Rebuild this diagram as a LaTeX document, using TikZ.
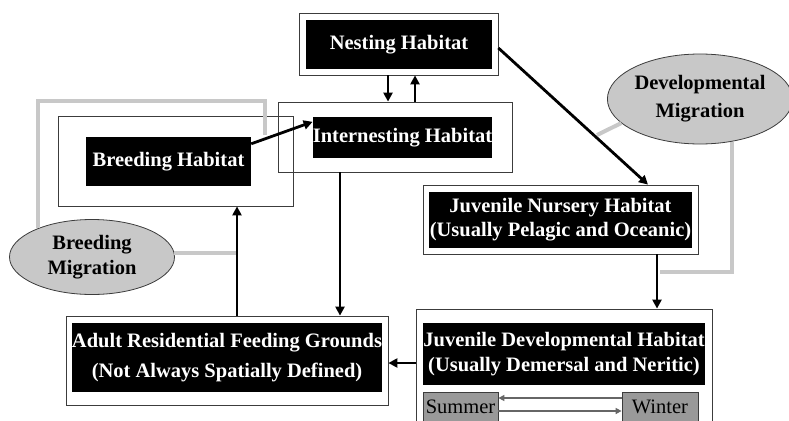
\documentclass[tikz,border=0pt]{standalone}
\usepackage{fontspec}
\setmainfont{Liberation Serif}
\usetikzlibrary{arrows.meta, calc, shapes.geometric}
\definecolor{migrey}{RGB}{200,200,200}
\definecolor{seasongrey}{RGB}{153,153,153}
\definecolor{framegrey}{RGB}{60,60,60}

\begin{document}
\begin{tikzpicture}[x=1pt, y=-1pt,
  outerframe/.style={draw=framegrey, line width=0.8pt, inner sep=0pt},
  habitat/.style={fill=black, text=white, inner sep=0pt, align=center,
    font=\bfseries\fontsize{20.5}{24}\selectfont},
  migration/.style={ellipse, draw=framegrey, fill=migrey, line width=0.8pt,
    inner sep=0pt, align=center, text=black},
  season/.style={draw=framegrey, fill=seasongrey, line width=0.8pt, inner sep=0pt,
    font=\fontsize{20.5}{24}\selectfont},
  flow/.style={line width=2.8pt, -{Triangle[length=9pt, width=9pt]}},
  migline/.style={line width=4pt, migrey},
  seasonflow/.style={line width=1.6pt, black!60, -{Triangle[length=6pt, width=6pt]}}
]
  \useasboundingbox (0,0) rectangle (789,420);
  \clip (0,0) rectangle (789,420);

  % Nesting and internesting habitats
  \node[outerframe, minimum width=199pt, minimum height=62pt] (nestout) at (398.5,44) {};
  \node[habitat, minimum width=186pt, minimum height=49pt] (nest) at (399,44.5) {Nesting Habitat};
  \node[outerframe, minimum width=234pt, minimum height=70pt] (intout) at (395,137) {};
  \node[habitat, minimum width=179pt, minimum height=41pt] (int) at (402.5,137.5) {Internesting Habitat};

  % Breeding habitat
  \node[outerframe, minimum width=235pt, minimum height=90pt] (brdout) at (175.5,161) {};
  \node[habitat, minimum width=165pt, minimum height=49pt] (brd) at (168.5,161.5) {Breeding Habitat};

  % Adult feeding grounds
  \node[outerframe, minimum width=322pt, minimum height=89pt] (adultout) at (227,360.5) {};
  \node[habitat, minimum width=310pt, minimum height=69pt,
    font=\bfseries\fontsize{20.5}{30}\selectfont] (adult) at (227,357.5)
    {Adult Residential Feeding Grounds\\(Not Always Spatially Defined)};

  % Juvenile habitats
  \node[outerframe, minimum width=275pt, minimum height=69pt] (nurout) at (560.5,219.5) {};
  \node[habitat, minimum width=263pt, minimum height=56pt] (nur) at (560.5,220)
    {Juvenile Nursery Habitat\\(Usually Pelagic and Oceanic)};
  \node[outerframe, minimum width=296pt, minimum height=121pt] (devout) at (564,369.5) {};
  \node[habitat, minimum width=282pt, minimum height=62pt,
    font=\bfseries\fontsize{20.5}{25}\selectfont] (dev) at (564,354)
    {Juvenile Developmental Habitat\\(Usually Demersal and Neritic)};

  % Seasons
  \node[season, minimum width=75pt, minimum height=30pt] (summer) at (460.5,407) {Summer};
  \node[season, minimum width=76pt, minimum height=30pt] (winter) at (660,407) {Winter};
  \draw[seasonflow] ([yshift=9pt]winter.west) -- ([yshift=9pt]summer.east);
  \draw[seasonflow] ([yshift=-4pt]summer.east) -- ([yshift=-4pt]winter.west);

  % Migration ellipses
  \node[migration, minimum width=165pt, minimum height=75pt,
    font=\bfseries\fontsize{20.5}{24.5}\selectfont] (bmig) at (92,257) {Breeding\\Migration};
  \node[migration, minimum width=180pt, minimum height=90pt,
    font=\bfseries\fontsize{20.5}{28}\selectfont] (dmig) at (700,99) {Developmental\\Migration};

  % Grey migration lines
  \coordinate (bltop) at (265,101);
  \coordinate (blend) at (265,135);
  \coordinate (aup) at ($(adultout.north)+(10,0)$);
  \draw[migline] (bmig.152) |- (bltop) -- (blend);
  \draw[migline] (bmig.3) -- (bmig.3 -| aup);
  \coordinate (dstub) at (597,135);
  \coordinate (dend) at (660,272);
  \draw[migline] (dmig.197) -- (dstub);
  \draw[migline] (dmig.307) |- (dend);

  % Black arrows
  \draw[flow] ($(nestout.south)+(-10.5,0)$) -- ($(intout.north)+(-7,0)$);
  \draw[flow] ($(intout.north)+(20,0)$) -- ($(nestout.south)+(16.5,0)$);
  \draw[flow] ($(brd.north east)+(0,7)$) -- ($(int.north west)+(0,5)$);
  \draw[flow] ($(nestout.east)+(0,4)$) -- ($(nurout.north)+(87.5,0)$);
  \draw[flow] ($(intout.south)+(-55,0)$) -- ($(adultout.north)+(113,0)$);
  \draw[flow] (aup) -- ($(brdout.south)+(61.5,0)$);
  \draw[flow] ($(nurout.south)+(96.5,0)$) -- ($(devout.north)+(93,0)$);
  \draw[flow] ($(devout.west)+(0,-6.5)$) -- ($(adultout.east)+(0,2.5)$);

\end{tikzpicture}
\end{document}
